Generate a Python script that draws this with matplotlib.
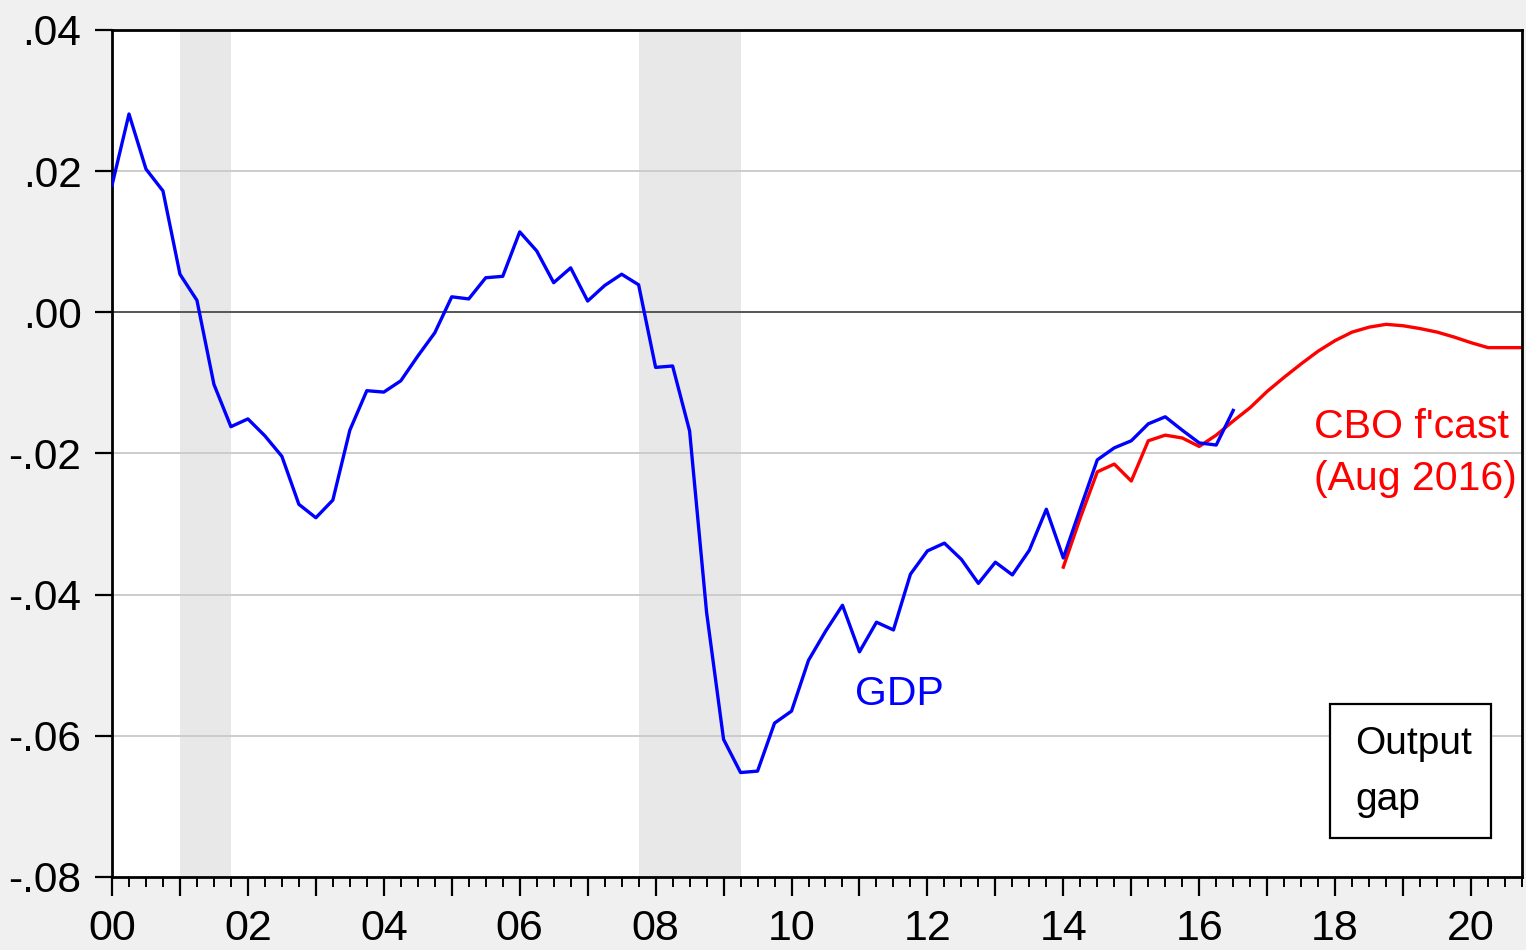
import matplotlib
matplotlib.use("Agg")
import matplotlib.pyplot as plt
from matplotlib.patches import Rectangle
from matplotlib.ticker import FixedLocator, FuncFormatter
import numpy as np

plt.rcParams['font.family'] = ['Liberation Sans', 'DejaVu Sans']

# Output gap, quarterly, GDP from 2000Q1
gdp_start = 2000.0
gdp_gap = [
    0.0180, 0.0281, 0.0203, 0.0172,      # 2000
    0.0054, 0.0017, -0.0102, -0.0162,    # 2001
    -0.0151, -0.0175, -0.0204, -0.0272,  # 2002
    -0.0291, -0.0266, -0.0167, -0.0111,  # 2003
    -0.0113, -0.0097, -0.0062, -0.0029,  # 2004
    0.0022, 0.0019, 0.0049, 0.0051,      # 2005
    0.0114, 0.0087, 0.0042, 0.0063,      # 2006
    0.0016, 0.0038, 0.0054, 0.0039,      # 2007
    -0.0078, -0.0076, -0.0168, -0.0425,  # 2008
    -0.0605, -0.0652, -0.0650, -0.0582,  # 2009
    -0.0565, -0.0493, -0.0452, -0.0415,  # 2010
    -0.0481, -0.0439, -0.0450, -0.0371,  # 2011
    -0.0338, -0.0327, -0.0350, -0.0384,  # 2012
    -0.0354, -0.0372, -0.0337, -0.0279,  # 2013
    -0.0348, -0.0278, -0.0209, -0.0192,  # 2014
    -0.0182, -0.0158, -0.0148, -0.0167,  # 2015
    -0.0185, -0.0188, -0.0139,           # 2016
]

# CBO forecast (Aug 2016), from 2014Q1
cbo_start = 2014.0
cbo_gap = [
    -0.0361, -0.0291, -0.0226, -0.0215,  # 2014
    -0.0239, -0.0182, -0.0174, -0.0178,  # 2015
    -0.0190, -0.0174, -0.0154, -0.0135,  # 2016
    -0.0112, -0.0092, -0.0073, -0.0055,  # 2017
    -0.0040, -0.0028, -0.0021, -0.0017,  # 2018
    -0.0019, -0.0023, -0.0028, -0.0035,  # 2019
    -0.0043, -0.0050, -0.0050, -0.0050,  # 2020
]

# NBER recessions
rec_start = [2001.0, 2007.75]
rec_end = [2001.75, 2009.25]

y_ticks = [-0.08, -0.06, -0.04, -0.02, 0.0, 0.02, 0.04]

x_gdp = gdp_start + 0.25 * np.arange(len(gdp_gap))
x_cbo = cbo_start + 0.25 * np.arange(len(cbo_gap))

fig = plt.figure(figsize=(15.26, 9.5), dpi=100, facecolor='#f0f0f0')
ax = fig.add_axes([112 / 1526, 73 / 950, 1410 / 1526, 847 / 950])
ax.set_facecolor('white')

for s, e in zip(rec_start, rec_end):
    ax.axvspan(s, e, color='#e8e8e8', lw=0, zorder=0)

for v in y_ticks:
    if v == 0.0:
        ax.axhline(v, color='#555555', lw=1.4, zorder=1)
    elif -0.08 < v < 0.04:
        ax.axhline(v, color='#cccccc', lw=1.4, zorder=1)

ax.plot(x_gdp, gdp_gap, color='#0000ff', lw=2.4, zorder=3)
ax.plot(x_cbo, cbo_gap, color='#ff0000', lw=2.4, zorder=2)

ax.set_xlim(2000, 2020.75)
ax.set_ylim(-0.08, 0.04)

ax.xaxis.set_major_locator(FixedLocator(np.arange(2000, 2021)))
ax.xaxis.set_minor_locator(FixedLocator(np.arange(2000, 2020.76, 0.25)))
ax.xaxis.set_major_formatter(FuncFormatter(
    lambda v, p: f"{int(round(v)) % 100:02d}" if int(round(v)) % 2 == 0 else ""))
ax.yaxis.set_major_locator(FixedLocator(y_ticks))


def yfmt(v, p):
    s = f"{v:.2f}"
    return s.replace("0.", ".", 1)


ax.yaxis.set_major_formatter(FuncFormatter(yfmt))

ax.tick_params(axis='x', which='major', length=14, width=1.6, pad=9,
               labelsize=31, direction='out')
ax.tick_params(axis='x', which='minor', length=7.5, width=1.4, direction='out')
ax.tick_params(axis='y', which='major', length=12, width=1.6, pad=10,
               labelsize=30.5, direction='out')

for sp in ax.spines.values():
    sp.set_linewidth(2.0)
    sp.set_color('black')

ax.text(2010.93, -0.0556, "GDP", color='#0000ff', fontsize=29.5, va='baseline')
ax.text(2017.69, -0.0178, "CBO f'cast", color='#ff0000', fontsize=29.5, va='baseline')
ax.text(2017.69, -0.0252, "(Aug 2016)", color='#ff0000', fontsize=29.5, va='baseline')

ax.add_patch(Rectangle((0.8638, 0.046), 0.1142, 0.158, transform=ax.transAxes,
                       facecolor='white', edgecolor='black', lw=1.6, zorder=5))
ax.text(0.882, 0.1452, "Output", transform=ax.transAxes, fontsize=28,
        va='baseline', zorder=6)
ax.text(0.882, 0.0791, "gap", transform=ax.transAxes, fontsize=28,
        va='baseline', zorder=6)

fig.savefig("out.png", dpi=100, facecolor=fig.get_facecolor())
